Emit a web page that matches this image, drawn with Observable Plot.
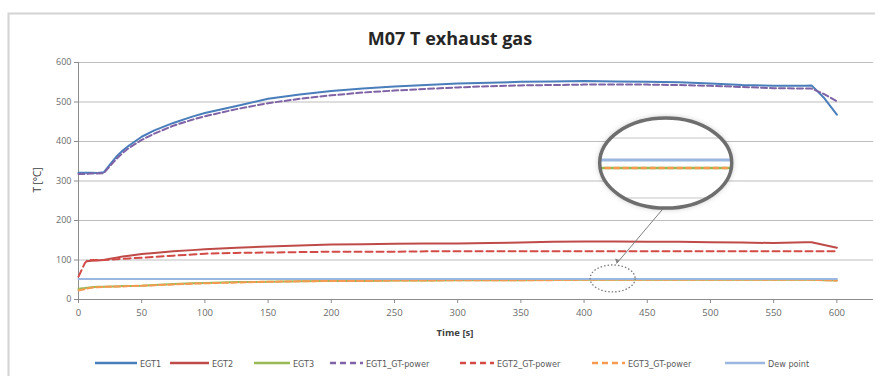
<!DOCTYPE html>
<html><head><meta charset="utf-8">
<script src="https://cdn.jsdelivr.net/npm/d3@7"></script>
<script src="https://cdn.jsdelivr.net/npm/@observablehq/plot@0.6"></script>
<style>
body{margin:0;background:#fff;}
#chart{width:875px;height:376px;overflow:hidden;}
</style>
</head><body><div id="chart"></div>
<script>
// ---- data ----
const time    = [0,5,7,10,15,20,25,30,35,40,50,60,75,90,100,125,150,175,200,225,250,275,300,325,350,375,400,425,450,475,500,525,550,575,580,590,600];
const egt1    = [321,321,321,321,320,322,342,362,377,390,412,428,447,463,472,490,508,519,528,534,539,543,547,549,551,552,553,552,551,550,547,543,541,541,542,510,468];
const egt2    = [null,null,97,98,99,100,103,106,109,111,115,118,122,125,127,131,134,137,139,140,141,142,142,143,144,146,147,147,146,146,145,144,143,145,145,138,131];
const egt3    = [27,29,30,31,32,32,33,33,34,34,35,37,39,41,42,44,45,46,47,47,48,48,49,49,49,50,50,50,50,50,50,50,50,50,50,49,48];
const egt1GT  = [318,318,318,319,319,320,338,356,371,384,404,420,440,455,464,482,497,508,517,524,529,533,537,540,542,543,544,544,544,543,541,538,535,534,534,520,502];
const egt2GT  = [58,92,99,100,100,100,101,102,103,104,106,108,111,114,116,118,119,120,121,121,121,122,122,122,122,122,122,122,122,122,122,122,122,122,122,122,122];
const egt3GT  = [23,26,28,30,31,32,32,33,33,34,35,36,38,40,41,43,45,46,47,47,48,48,49,49,49,49,50,50,50,50,50,50,50,50,50,49,48];
const dewPoint= [52,52,52,52,52,52,52,52,52,52,52,52,52,52,52,52,52,52,52,52,52,52,52,52,52,52,52,52,52,52,52,52,52,52,52,52,52];

const seriesNames = ["EGT1","EGT2","EGT3","EGT1_GT-power","EGT2_GT-power","EGT3_GT-power","Dew point"];
const seriesValues = [egt1, egt2, egt3, egt1GT, egt2GT, egt3GT, dewPoint];
const xTicks = [0,50,100,150,200,250,300,350,400,450,500,550,600];
const yTicks = [0,100,200,300,400,500,600];
const titleText = "M07 T exhaust gas";
const xLabel = "Time [s]";
const yLabel = "T [°C]";
// zoom annotation (data coordinates)
const zoomSpot = {x: 423, y: 52};
const zoomLens = {x: 465, y: 344};

// ---- styles ----
const colors = ["#4A7EBB","#BE4B48","#98B954","#7F63A6","#D24B47","#F59A50","#9BB7E0"];
const dashes = [null,null,null,"6,3","7,4","6,3",null];
const FONT = "'Open Sans',Arial,sans-serif";
const NARROW = "'DejaVu Sans Condensed','Open Sans',sans-serif";

const rows = [];
seriesNames.forEach((s,i)=>{
  time.forEach((t,j)=>{
    const v = seriesValues[i][j];
    if (v != null) rows.push({s, t, v});
  });
});

const lineMarks = seriesNames.map((s,i)=>Plot.line(rows.filter(r=>r.s===s), {
  x:"t", y:"v", stroke: colors[i], strokeWidth: 2,
  strokeDasharray: dashes[i] ?? undefined, strokeLinejoin:"round"
}));

const plot = Plot.plot({
  width: 875, height: 376,
  marginLeft: 78, marginRight: 2, marginTop: 62, marginBottom: 77,
  style: {fontFamily: FONT, background: "#fff", overflow: "visible"},
  x: {domain: [0, 629], label: null},
  y: {domain: [0, 600], label: null},
  marks: [
    Plot.gridY(yTicks.filter(d=>d>0), {stroke:"#BDBDBD", strokeOpacity:1, strokeWidth:1}),
    Plot.ruleY([0], {stroke:"#8C8C8C"}),
    Plot.ruleX([0], {stroke:"#8C8C8C"}),
    Plot.axisY(yTicks, {tickSize:4, tickPadding:3, stroke:"#8C8C8C", fill:"#6B6B6B", fontSize:9}),
    Plot.axisX(xTicks, {tickSize:4, tickPadding:6, stroke:"#8C8C8C", fill:"#6B6B6B", fontSize:9.5}),
    ...lineMarks
  ]
});
document.getElementById("chart").appendChild(plot);

// ---- annotations, title, frame, legend ----
const svg = d3.select(plot);
const xs = plot.scale("x"), ys = plot.scale("y");
const X = v=>xs.apply(v), Y = v=>ys.apply(v);

// chart-area frame
svg.append("path").attr("d","M8.5,376 V13.5 H875").attr("fill","none").attr("stroke","#D4D4D4").attr("stroke-width",2);

// title
svg.append("text").attr("x",450).attr("y",45).attr("text-anchor","middle")
  .attr("font-family",FONT).attr("font-size",18).attr("font-weight","bold").attr("fill","#262626").text(titleText);

// axis labels
svg.append("text").attr("x",455).attr("y",336).attr("text-anchor","middle")
  .attr("font-family",FONT).attr("font-size",9.5).attr("font-weight","bold").attr("fill","#404040").text(xLabel);
svg.append("text").attr("transform",`translate(41,180) rotate(-90)`).attr("text-anchor","middle")
  .attr("font-family",FONT).attr("font-size",10).attr("fill","#404040").text(yLabel);

// legend
const legendX = [95,170,254,330,460,592,725];
const legendSw = [42,39,36,33,34,33,40];
const lg = svg.append("g").attr("font-family",NARROW).attr("font-size",9).attr("fill","#595959").attr("text-anchor","start");
seriesNames.forEach((s,i)=>{
  const x0 = legendX[i];
  lg.append("line").attr("x1",x0).attr("x2",x0+legendSw[i]).attr("y1",363).attr("y2",363)
    .attr("stroke",colors[i]).attr("stroke-width",2.5).attr("stroke-dasharray",dashes[i] ? "6,4" : null);
  lg.append("text").attr("x",x0+legendSw[i]+3).attr("y",366.5).attr("text-anchor","start").text(s);
});

// dotted small ellipse around zoom spot
const sx = X(zoomSpot.x), sy = Y(zoomSpot.y);
svg.append("ellipse").attr("cx",sx).attr("cy",sy).attr("rx",22.5).attr("ry",13.5)
  .attr("fill","none").attr("stroke","#7A7A7A").attr("stroke-width",1.3).attr("stroke-dasharray","1.5,2");

// lens
const lx = X(zoomLens.x), ly = Y(zoomLens.y);
const defs = svg.append("defs");
const filt = defs.append("filter").attr("id","lensShadow").attr("x","-30%").attr("y","-30%").attr("width","160%").attr("height","160%");
filt.append("feGaussianBlur").attr("in","SourceAlpha").attr("stdDeviation",3);
filt.append("feOffset").attr("dx",0).attr("dy",0).attr("result","b");
filt.append("feFlood").attr("flood-color","#000").attr("flood-opacity",0.35);
filt.append("feComposite").attr("in2","b").attr("operator","in");
const fm = filt.append("feMerge"); fm.append("feMergeNode"); fm.append("feMergeNode").attr("in","SourceGraphic");
defs.append("clipPath").attr("id","lensClip").append("ellipse").attr("cx",lx).attr("cy",ly).attr("rx",66).attr("ry",45);

// connector
svg.append("line").attr("x1",lx-3).attr("y1",ly+46).attr("x2",sx+4).attr("y2",sy-15)
  .attr("stroke","#808080").attr("stroke-width",1);
svg.append("path").attr("d",`M${sx+4},${sy-15} l-1.5,-5 l4,1.5 z`).attr("fill","#808080");

svg.append("ellipse").attr("cx",lx).attr("cy",ly).attr("rx",66).attr("ry",45)
  .attr("fill","#fff").attr("filter","url(#lensShadow)");
const inner = svg.append("g").attr("clip-path","url(#lensClip)");
// magnified view: gridlines and the three low series
[-25,35].forEach(d=>inner.append("line").attr("x1",lx-70).attr("x2",lx+70).attr("y1",ly+d).attr("y2",ly+d).attr("stroke","#D9D9D9").attr("stroke-width",1.5));
inner.append("line").attr("x1",lx-70).attr("x2",lx+70).attr("y1",ly-3).attr("y2",ly-3).attr("stroke",colors[6]).attr("stroke-width",3);
inner.append("line").attr("x1",lx-70).attr("x2",lx+70).attr("y1",ly+5).attr("y2",ly+5).attr("stroke",colors[2]).attr("stroke-width",2.5);
inner.append("line").attr("x1",lx-70).attr("x2",lx+70).attr("y1",ly+5).attr("y2",ly+5).attr("stroke",colors[5]).attr("stroke-width",2.5).attr("stroke-dasharray","6,3");
svg.append("ellipse").attr("cx",lx).attr("cy",ly).attr("rx",66).attr("ry",45)
  .attr("fill","none").attr("stroke","#6E6E6E").attr("stroke-width",3.5);
</script>
</body></html>
